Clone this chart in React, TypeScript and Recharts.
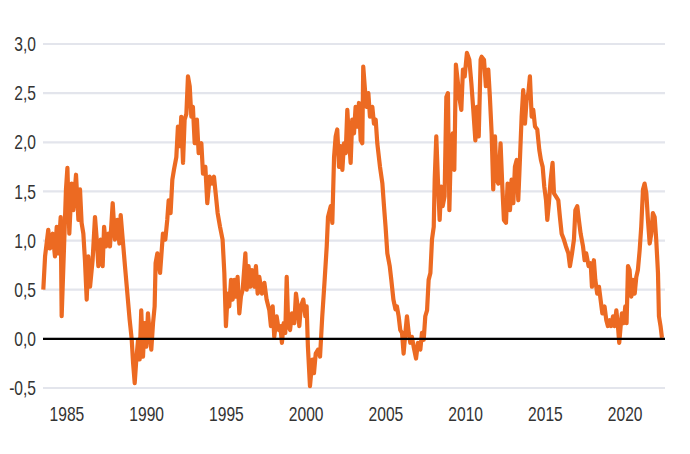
import React from "react";
import { LineChart, Line, XAxis, YAxis, CartesianGrid, ReferenceLine } from "recharts";

const YEARS: number[] = [
  1983.52, 1983.63, 1983.83, 1983.94, 1984.11, 1984.25, 1984.36, 1984.46, 1984.61, 1984.67,
  1984.82, 1984.94, 1985.03, 1985.15, 1985.30, 1985.40, 1985.57, 1985.72, 1985.82, 1985.92,
  1986.03, 1986.13, 1986.24, 1986.34, 1986.45, 1986.61, 1986.76, 1986.87, 1986.97, 1987.12,
  1987.24, 1987.33, 1987.45, 1987.60, 1987.70, 1987.87, 1988.01, 1988.16, 1988.29, 1988.37,
  1988.50, 1988.64, 1988.79, 1988.93, 1989.06, 1989.15, 1989.25,
  1989.35, 1989.46, 1989.56, 1989.66, 1989.77, 1989.87, 1989.98, 1990.08, 1990.19, 1990.29,
  1990.40, 1990.50, 1990.56, 1990.67, 1990.84, 1991.02, 1991.17, 1991.29, 1991.38, 1991.50,
  1991.61, 1991.71, 1991.86, 1991.96, 1992.07, 1992.17, 1992.28, 1992.38, 1992.49, 1992.59,
  1992.70, 1992.80, 1992.90, 1993.01, 1993.15, 1993.26, 1993.43, 1993.53, 1993.68, 1993.80,
  1993.95, 1994.10, 1994.22, 1994.37,
  1994.45, 1994.60, 1994.76, 1994.87, 1994.97, 1995.08, 1995.18, 1995.29, 1995.39, 1995.50,
  1995.60, 1995.70, 1995.81, 1995.91, 1996.02, 1996.19, 1996.27, 1996.39, 1996.50, 1996.60,
  1996.75, 1996.85, 1996.96, 1997.06, 1997.23, 1997.38, 1997.52, 1997.69, 1997.79, 1997.90,
  1998.00, 1998.15, 1998.28, 1998.38, 1998.48, 1998.59, 1998.69, 1998.78, 1998.88, 1998.99,
  1999.11, 1999.26, 1999.36, 1999.47, 1999.57, 1999.67, 1999.82, 1999.95,
  2000.03, 2000.11, 2000.24, 2000.39, 2000.49, 2000.60, 2000.74, 2000.87, 2001.01, 2001.16,
  2001.29, 2001.37, 2001.54, 2001.64, 2001.75, 2001.85, 2001.95, 2002.06, 2002.16, 2002.27,
  2002.37, 2002.48, 2002.58, 2002.69, 2002.79, 2002.89, 2003.00, 2003.10, 2003.21, 2003.31,
  2003.42, 2003.52, 2003.58, 2003.69, 2003.79, 2003.90, 2004.00, 2004.15, 2004.25, 2004.36,
  2004.46, 2004.63, 2004.78, 2004.88, 2004.98, 2005.09, 2005.24, 2005.34, 2005.47,
  2005.60, 2005.69, 2005.80, 2005.90, 2006.01, 2006.11, 2006.22, 2006.32, 2006.43, 2006.53,
  2006.63, 2006.74, 2006.89, 2007.01, 2007.16, 2007.26, 2007.37, 2007.47, 2007.58, 2007.68,
  2007.79, 2007.89, 2008.00, 2008.06, 2008.16, 2008.27, 2008.37, 2008.47, 2008.56, 2008.68,
  2008.79, 2008.89, 2008.98, 2009.06, 2009.19, 2009.29, 2009.39, 2009.50, 2009.60, 2009.73,
  2009.83, 2009.94, 2010.08, 2010.23, 2010.36, 2010.48, 2010.61, 2010.71, 2010.82, 2010.94,
  2011.00, 2011.15, 2011.27, 2011.42, 2011.52, 2011.63, 2011.73, 2011.84, 2011.94, 2012.05,
  2012.19, 2012.30, 2012.40, 2012.53, 2012.63, 2012.78, 2012.88, 2012.99, 2013.09, 2013.20,
  2013.30, 2013.41, 2013.51, 2013.61, 2013.72, 2013.82, 2013.93, 2014.03, 2014.14, 2014.24,
  2014.35, 2014.49, 2014.62, 2014.72, 2014.83, 2014.93, 2015.04, 2015.12, 2015.22, 2015.33,
  2015.45, 2015.54, 2015.66, 2015.81, 2015.91, 2016.02, 2016.16, 2016.29, 2016.44, 2016.54,
  2016.67, 2016.79, 2016.88, 2017.00, 2017.10, 2017.21, 2017.36, 2017.46, 2017.56, 2017.71,
  2017.84, 2017.92, 2018.04, 2018.13, 2018.25, 2018.36, 2018.46, 2018.57, 2018.71, 2018.82,
  2018.92, 2019.03, 2019.13, 2019.24, 2019.34, 2019.45, 2019.55, 2019.63, 2019.72, 2019.80,
  2019.91, 2020.01, 2020.09, 2020.18, 2020.28, 2020.39, 2020.49, 2020.60, 2020.70, 2020.80,
  2020.91, 2021.01, 2021.12, 2021.22, 2021.33, 2021.43, 2021.54, 2021.64, 2021.74, 2021.85,
  2021.95, 2022.06, 2022.12, 2022.22, 2022.31,
];

const SPREAD: number[] = [
  0.50, 0.84, 1.11, 0.92, 1.07, 0.84, 1.14, 0.87, 1.24, 0.23,
  0.94, 1.52, 1.74, 1.07, 1.58, 1.31, 1.67, 1.21, 1.52, 1.18,
  1.07, 0.80, 0.40, 0.84, 0.53, 0.80, 1.24, 1.01, 0.74, 1.01,
  0.74, 1.14, 0.94, 1.07, 0.94, 1.38, 1.01, 1.21, 0.97, 1.26,
  1.01, 0.74, 0.46, 0.20, 0.00, -0.25, -0.45,
  -0.21, -0.01, -0.21, 0.29, -0.18, 0.16, -0.08, 0.26, 0.06, -0.11,
  0.16, 0.33, 0.77, 0.87, 0.67, 1.07, 1.01, 1.21, 1.41, 1.28,
  1.62, 1.72, 1.85, 2.16, 1.96, 2.26, 1.79, 2.23, 2.29, 2.67,
  2.57, 2.26, 2.36, 1.99, 2.23, 1.89, 1.99, 1.68, 1.75, 1.38,
  1.65, 1.58, 1.65, 1.41,
  1.28, 1.14, 1.01, 0.67, 0.13, 0.46, 0.33, 0.60, 0.40, 0.60,
  0.43, 0.63, 0.26, 0.43, 0.50, 0.87, 0.50, 0.74, 0.53, 0.70,
  0.53, 0.74, 0.46, 0.63, 0.46, 0.57, 0.40, 0.29, 0.13, 0.33,
  0.02, 0.23, 0.09, 0.13, -0.04, 0.16, 0.06, 0.63, 0.13, 0.09,
  0.26, 0.16, 0.46, 0.33, 0.13, 0.33, 0.40, 0.23,
  0.33, -0.08, -0.48, -0.21, -0.35, -0.15, -0.11, -0.18, 0.23, 0.60,
  0.94, 1.24, 1.35, 1.18, 1.85, 2.06, 2.13, 1.75, 1.96, 1.72,
  1.99, 1.89, 2.33, 2.02, 1.79, 2.23, 2.09, 2.36, 2.16, 2.40,
  2.02, 1.99, 2.77, 2.53, 2.36, 2.50, 2.26, 2.36, 2.19, 2.23,
  1.99, 1.75, 1.58, 1.35, 1.14, 0.87, 0.74, 0.60, 0.40,
  0.30, 0.33, 0.23, 0.09, 0.06, -0.15, 0.06, 0.23, 0.06, -0.04,
  0.02, -0.08, -0.20, -0.04, -0.11, 0.06, -0.01, 0.23, 0.29, 0.60,
  0.67, 1.01, 1.14, 1.62, 2.06, 1.58, 1.21, 1.55, 1.35, 1.45,
  2.46, 2.50, 1.31, 1.85, 2.09, 1.72, 2.79, 2.63, 2.46, 2.33,
  2.74, 2.67, 2.91, 2.84, 2.60, 2.33, 2.02, 2.36, 2.06, 2.84,
  2.87, 2.84, 2.57, 2.74, 2.46, 2.09, 1.52, 2.06, 1.62, 1.58,
  1.99, 1.55, 1.21, 1.18, 1.58, 1.31, 1.62, 1.38, 1.75, 1.82,
  1.41, 1.85, 2.26, 2.53, 2.19, 2.43, 2.50, 2.67, 2.26, 2.33,
  2.16, 2.13, 1.92, 1.82, 1.75, 1.55, 1.41, 1.21, 1.38, 1.62,
  1.79, 1.48, 1.45, 1.41, 1.24, 1.07, 1.01, 0.94, 0.87, 0.74,
  0.87, 1.01, 1.31, 1.35, 1.21, 1.07, 0.94, 0.80, 0.87, 0.74,
  0.77, 0.53, 0.80, 0.60, 0.46, 0.53, 0.40, 0.26, 0.33, 0.19,
  0.13, 0.19, 0.13, 0.23, 0.13, 0.29, 0.13, -0.04, 0.13, 0.26,
  0.16, 0.33, 0.16, 0.74, 0.70, 0.43, 0.60, 0.46, 0.63, 0.70,
  0.90, 1.14, 1.52, 1.58, 1.48, 1.21, 0.97, 1.07, 1.28, 1.24,
  1.01, 0.67, 0.23, 0.13, 0.01,
];

const X_TICKS: number[] = [1985, 1990, 1995, 2000, 2005, 2010, 2015, 2020];
const Y_TICKS: number[] = [-0.5, 0, 0.5, 1, 1.5, 2, 2.5, 3];

const data = YEARS.map((t, i) => ({ t, v: SPREAD[i] }));

const FONT = '"Liberation Sans", Arial, sans-serif';

const fmtY = (v: number) => v.toFixed(1).replace(".", ",");

function XTick(props: any) {
  const { x, y, payload } = props;
  return (
    <g transform={`translate(${x},${y}) scale(0.78,1)`}>
      <text x={0} y={0} dy="0.71em" textAnchor="middle" fontFamily={FONT} fontSize={20} fill="#333333">
        {String(payload.value)}
      </text>
    </g>
  );
}

function YTick(props: any) {
  const { x, y, payload } = props;
  return (
    <g transform={`translate(${x},${y}) scale(0.78,1)`}>
      <text x={0} y={0} dy="0.355em" textAnchor="end" fontFamily={FONT} fontSize={20} fill="#333333">
        {fmtY(payload.value)}
      </text>
    </g>
  );
}

export default function App() {
  return (
    <div style={{ position: "absolute", left: 0, top: 0, width: 690, height: 454, background: "#fff" }}>
      <LineChart width={690} height={454} data={data} margin={{ top: 44, right: 25, bottom: 36, left: 0 }}>
        <CartesianGrid horizontal={true} vertical={false} stroke="#E3E5EC" strokeWidth={2.2} />
        <XAxis
          dataKey="t"
          type="number"
          domain={[1983.5, 2022.5]}
          ticks={X_TICKS}
          axisLine={false}
          tickLine={false}
          height={30}
          tickMargin={13}
          tick={<XTick />}
        />
        <YAxis
          type="number"
          domain={[-0.5, 3]}
          ticks={Y_TICKS}
          axisLine={false}
          tickLine={false}
          width={43}
          tickMargin={1}
          tick={<YTick />}
        />
        <Line
          type="linear"
          dataKey="v"
          stroke="#EC6A22"
          strokeWidth={4.2}
          dot={false}
          isAnimationActive={false}
          strokeLinejoin="round"
        />
        <ReferenceLine y={0} stroke="#000000" strokeWidth={2.4} />
      </LineChart>
    </div>
  );
}
